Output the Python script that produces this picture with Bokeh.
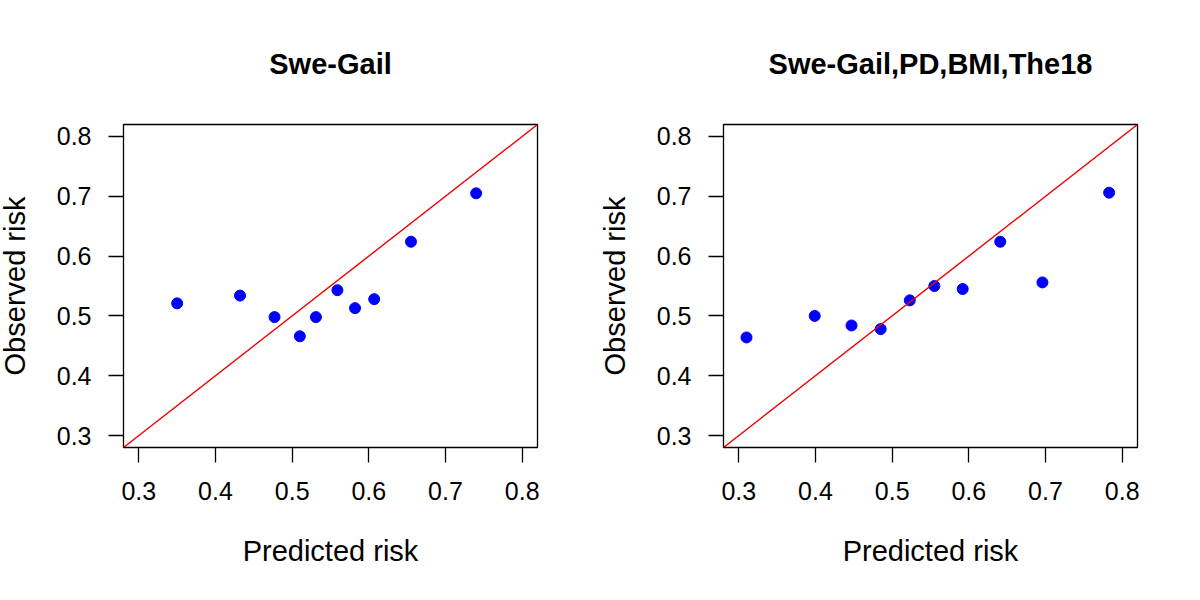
from bokeh.plotting import figure
from bokeh.layouts import row
from bokeh.models import Range1d, Slope, Title, FixedTicker
from bokeh.embed import file_html
from bokeh.resources import INLINE

titles = ["Swe-Gail", "Swe-Gail,PD,BMI,The18"]
x_label = "Predicted risk"
y_label = "Observed risk"

pred_a = [0.350, 0.432, 0.477, 0.510, 0.531, 0.559, 0.582, 0.607, 0.655, 0.740]
obs_a = [0.521, 0.534, 0.498, 0.466, 0.498, 0.543, 0.513, 0.528, 0.624, 0.705]

pred_b = [0.310, 0.399, 0.447, 0.485, 0.523, 0.555, 0.592, 0.641, 0.696, 0.783]
obs_b = [0.464, 0.500, 0.484, 0.478, 0.526, 0.550, 0.545, 0.624, 0.556, 0.706]

ticks = [0.3, 0.4, 0.5, 0.6, 0.7, 0.8]
lim = (0.28, 0.82)

FONT = "Liberation Sans"


def make(title, xs, ys, left, right, shift):
    p = figure(width=592, height=584, output_backend="svg", toolbar_location=None,
               x_range=Range1d(*lim), y_range=Range1d(*lim), title=None,
               min_border_left=left, min_border_right=right,
               min_border_top=123, min_border_bottom=137,
               margin=(0, 0, 0, shift))
    p.add_layout(Title(text=title, align="center", text_font=FONT,
                       text_font_size="29px", text_font_style="bold",
                       text_color="black", standoff=90), "above")
    p.xgrid.visible = False
    p.ygrid.visible = False
    p.outline_line_color = "black"
    p.outline_line_width = 1.3
    p.background_fill_color = "white"
    p.border_fill_color = "white"
    for ax, lab in ((p.xaxis[0], x_label), (p.yaxis[0], y_label)):
        ax.ticker = FixedTicker(ticks=ticks)
        ax.axis_line_color = None
        ax.major_tick_in = 0
        ax.major_tick_out = 15
        ax.major_tick_line_color = "black"
        ax.major_tick_line_width = 1.3
        ax.minor_tick_line_color = None
        ax.major_label_text_font = FONT
        ax.major_label_text_font_size = "25px"
        ax.major_label_text_color = "black"
        ax.axis_label = lab
        ax.axis_label_text_font = FONT
        ax.axis_label_text_font_size = "29px"
        ax.axis_label_text_font_style = "normal"
        ax.axis_label_text_color = "black"
    p.xaxis[0].major_label_standoff = 19
    p.xaxis[0].axis_label_standoff = 32
    p.yaxis[0].major_label_standoff = 17
    p.yaxis[0].major_label_orientation = "horizontal"
    p.yaxis[0].axis_label_standoff = 23
    p.add_layout(Slope(gradient=1, y_intercept=0, line_color="#EE0000", line_width=1.4))
    p.scatter(xs, ys, size=11, color="#0000FF", line_color="#0000FF")
    return p


p1 = make(titles[0], pred_a, obs_a, 130, 48, -7)
p2 = make(titles[1], pred_b, obs_b, 138, 40, 0)
layout = row(p1, p2, spacing=0)

open("out.html", "w").write(file_html(layout, INLINE))
